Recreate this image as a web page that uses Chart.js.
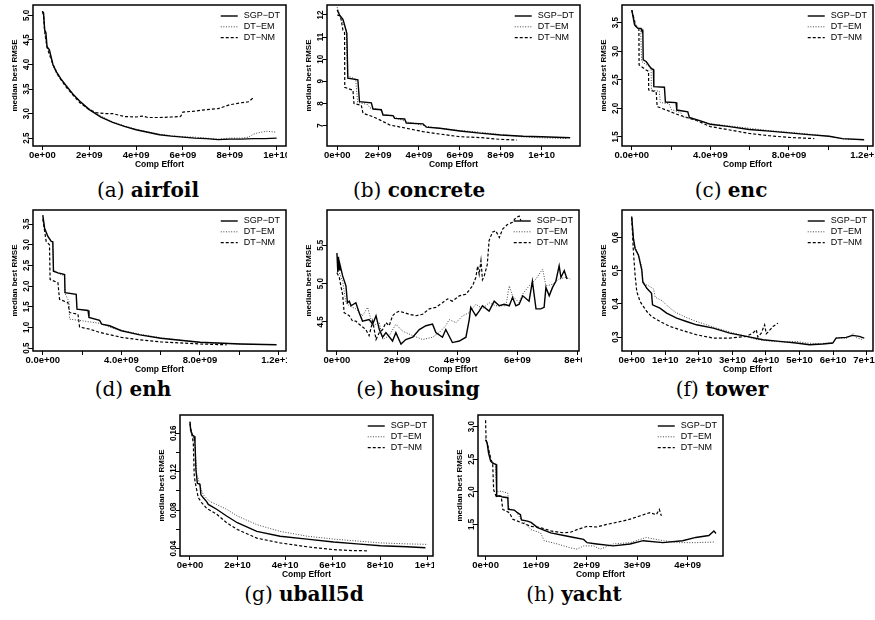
<!DOCTYPE html>
<html>
<head>
<meta charset="utf-8">
<script src="https://cdn.jsdelivr.net/npm/chart.js@4.4.1/dist/chart.umd.min.js"></script>
<style>
  body { margin: 0; background: #fff; width: 875px; height: 620px; position: relative; overflow: hidden; }
  canvas { position: absolute; }
  .cap { position: absolute; width: 300px; text-align: center; font: 20px "DejaVu Serif"; line-height: 24px; color: #000; white-space: nowrap; }
</style>
</head>
<body>
<script>
// series names (R draws "-" as a minus sign)
const seriesNames = ['SGP\u2212DT', 'DT\u2212EM', 'DT\u2212NM'];

// x in units of 1e9 comp effort, y = median best RMSE
const airfoilSgp = [[0,5.08],[0.05,5.05],[0.1,4.70],[0.15,4.65],[0.2,4.36],[0.3,4.30],[0.45,4.00],[0.6,3.85],[0.8,3.70],[1.0,3.58],[1.3,3.40],[1.6,3.25],[2.0,3.08],[2.5,2.93],[3.0,2.82],[3.5,2.74],[4.0,2.67],[4.5,2.62],[5.0,2.57],[5.5,2.54],[6.0,2.52],[6.5,2.50],[7.0,2.49],[7.5,2.47],[8.0,2.48],[8.5,2.48],[9.0,2.49],[9.5,2.49],[10.0,2.50]];
const airfoilEm = [[0,5.08],[0.05,5.0],[0.1,4.68],[0.2,4.35],[0.3,4.25],[0.45,3.98],[0.6,3.82],[0.8,3.68],[1.0,3.56],[1.3,3.40],[1.6,3.26],[2.0,3.10],[2.5,2.95],[3.0,2.83],[3.5,2.75],[4.0,2.68],[4.5,2.63],[5.0,2.58],[5.5,2.55],[6.0,2.53],[6.5,2.52],[7.0,2.50],[7.5,2.48],[8.0,2.50],[8.5,2.50],[8.8,2.52],[9.0,2.58],[9.3,2.62],[9.6,2.64],[10.0,2.62]];
const airfoilNm = [[0,5.08],[0.05,5.0],[0.1,4.65],[0.2,4.35],[0.3,4.2],[0.5,3.95],[0.7,3.75],[1.0,3.55],[1.3,3.38],[1.6,3.22],[2.0,3.08],[2.3,3.02],[2.7,3.00],[3.0,3.00],[3.5,2.94],[4.0,2.93],[4.3,2.95],[4.5,2.92],[5.0,2.92],[5.5,2.93],[5.9,2.94],[6.0,3.03],[6.5,3.05],[7.0,3.08],[7.5,3.10],[8.0,3.18],[8.5,3.22],[8.8,3.24],[9.0,3.32]];

const concreteSgp = [[0,12.23],[0.11,12.0],[0.28,11.8],[0.36,11.55],[0.47,11.17],[0.52,9.14],[1.01,9.07],[1.09,8.08],[1.67,8.03],[1.75,7.75],[2.16,7.72],[2.24,7.48],[2.73,7.45],[2.81,7.33],[3.30,7.30],[3.38,7.12],[4.20,7.08],[4.36,6.93],[5.02,6.88],[6.0,6.76],[6.98,6.66],[8.0,6.58],[9.1,6.52],[10.0,6.50],[11.4,6.45]];
const concreteEm = [[0,12.35],[0.15,11.9],[0.3,11.6],[0.45,11.3],[0.5,9.25],[0.9,9.1],[1.0,8.05],[1.5,7.95],[1.6,7.8],[2.1,7.72],[2.3,7.5],[2.8,7.42],[3.0,7.3],[3.5,7.15],[4.0,7.05],[4.5,6.95],[5.0,6.88],[6.0,6.78],[7.0,6.7],[8.0,6.6],[9.0,6.5],[10.0,6.45],[11.2,6.42]];
const concreteNm = [[0,12.0],[0.16,11.95],[0.28,11.32],[0.36,11.2],[0.37,8.73],[0.77,8.6],[0.82,8.0],[1.18,7.92],[1.26,7.56],[1.75,7.4],[2.08,7.26],[2.57,7.03],[3.39,6.88],[4.2,6.73],[5.02,6.62],[6.0,6.5],[6.98,6.46],[8.0,6.38],[8.8,6.35]];

const encSgp = [[0,3.72],[0.14,3.46],[0.31,3.40],[0.47,3.40],[0.5,3.37],[0.56,3.37],[0.58,2.85],[0.73,2.82],[0.98,2.70],[1.10,2.68],[1.12,2.38],[1.66,2.37],[1.71,2.11],[2.25,2.10],[2.29,1.97],[2.85,1.94],[2.93,1.84],[3.5,1.78],[4.0,1.72],[4.97,1.68],[5.98,1.63],[7.0,1.60],[8.02,1.57],[9.0,1.54],[10.05,1.51],[10.73,1.47],[11.83,1.45]];
const encEm = [[0,3.72],[0.2,3.45],[0.45,3.38],[0.5,2.82],[0.8,2.75],[0.98,2.72],[1.0,2.32],[1.4,2.30],[1.45,2.10],[1.9,2.08],[2.0,1.98],[2.5,1.92],[2.6,1.85],[3.2,1.80],[4.0,1.73],[5.0,1.69],[6.0,1.65],[7.0,1.61],[8.0,1.58],[9.0,1.55],[10.0,1.51],[10.8,1.46],[11.8,1.45]];
const encNm = [[0,3.72],[0.22,3.43],[0.36,3.40],[0.37,2.76],[0.73,2.67],[0.85,2.65],[0.86,2.32],[1.24,2.29],[1.29,2.03],[1.75,1.97],[2.42,1.88],[3.27,1.79],[4.0,1.68],[5.0,1.62],[5.98,1.56],[7.0,1.52],[8.02,1.49],[9.29,1.47]];

const enhSgp = [[0,3.71],[0.09,3.40],[0.26,3.20],[0.43,3.08],[0.51,3.07],[0.54,2.36],[0.77,2.32],[0.94,2.30],[1.11,2.28],[1.13,1.84],[1.70,1.80],[1.74,1.44],[2.30,1.41],[2.35,1.24],[2.89,1.17],[3.0,1.08],[3.40,1.04],[4.0,0.92],[4.94,0.82],[6.01,0.74],[7.0,0.69],[8.0,0.64],[10.04,0.60],[11.9,0.58]];
const enhEm = [[0,3.72],[0.1,3.35],[0.3,3.15],[0.5,3.05],[0.55,2.40],[0.8,2.30],[1.1,2.25],[1.13,1.82],[1.34,1.62],[1.36,1.20],[1.7,1.18],[2.3,1.14],[2.9,1.10],[3.5,0.99],[4.0,0.93],[5.0,0.83],[6.0,0.75],[7.0,0.69],[8.0,0.64],[10.0,0.60],[11.0,0.59]];
const enhNm = [[0,3.62],[0.17,3.08],[0.34,3.0],[0.37,2.16],[0.77,2.08],[0.85,1.68],[1.28,1.60],[1.36,1.36],[1.79,1.32],[1.87,1.01],[2.38,0.96],[2.89,0.88],[4.0,0.76],[4.94,0.70],[6.01,0.65],[8.0,0.60],[9.36,0.58]];

const housingSgp = [[0,5.40],[0.03,5.15],[0.05,5.35],[0.08,5.18],[0.10,5.25],[0.19,5.10],[0.30,4.97],[0.35,4.75],[0.41,4.77],[0.47,4.71],[0.63,4.75],[0.74,4.62],[0.85,4.51],[1.07,4.53],[1.19,4.47],[1.30,4.58],[1.41,4.40],[1.52,4.30],[1.63,4.36],[1.85,4.25],[1.96,4.36],[2.13,4.21],[2.29,4.27],[2.52,4.30],[2.74,4.40],[2.96,4.45],[3.18,4.47],[3.29,4.36],[3.51,4.30],[3.62,4.40],[3.79,4.27],[3.84,4.23],[4.07,4.25],[4.29,4.30],[4.40,4.53],[4.45,4.69],[4.62,4.58],[4.73,4.64],[4.84,4.71],[5.06,4.64],[5.23,4.77],[5.40,4.71],[5.56,4.73],[5.73,4.71],[5.84,4.82],[5.95,4.71],[6.06,4.73],[6.18,4.84],[6.39,4.77],[6.50,5.03],[6.62,4.67],[6.78,4.67],[6.89,4.69],[6.95,4.95],[7.06,4.84],[7.17,4.95],[7.28,5.03],[7.39,5.23],[7.45,5.08],[7.56,5.17],[7.65,5.06]];
const housingEm = [[0,5.14],[0.08,5.14],[0.19,5.03],[0.30,4.75],[0.41,4.71],[0.63,4.67],[0.85,4.58],[1.02,4.69],[1.19,4.45],[1.41,4.49],[1.52,4.27],[1.74,4.32],[1.96,4.47],[2.18,4.38],[2.52,4.32],[2.85,4.27],[3.18,4.30],[3.40,4.36],[3.62,4.45],[3.73,4.53],[3.96,4.49],[4.18,4.58],[4.40,4.62],[4.62,4.73],[4.84,4.67],[5.06,4.75],[5.28,4.71],[5.62,4.71],[5.73,4.97],[5.84,4.84],[6.06,4.75],[6.17,4.86],[6.39,4.97],[6.62,5.06],[6.84,5.19],[6.95,4.97],[7.17,4.99],[7.39,5.06],[7.61,5.08],[7.76,5.06]];
const housingNm = [[0,5.14],[0.08,5.08],[0.13,4.97],[0.19,4.86],[0.24,4.62],[0.41,4.58],[0.52,4.51],[0.63,4.51],[0.74,4.47],[0.96,4.40],[1.07,4.32],[1.19,4.51],[1.30,4.27],[1.41,4.36],[1.52,4.40],[1.63,4.49],[1.74,4.45],[1.85,4.58],[1.96,4.62],[2.07,4.64],[2.24,4.62],[2.40,4.60],[2.63,4.58],[2.85,4.60],[3.07,4.67],[3.29,4.69],[3.51,4.75],[3.68,4.80],[3.84,4.77],[4.07,4.84],[4.29,4.86],[4.51,4.97],[4.62,5.08],[4.68,5.23],[4.73,5.12],[4.79,5.30],[4.84,5.05],[4.90,5.10],[5.00,5.25],[5.06,5.56],[5.17,5.67],[5.28,5.69],[5.40,5.60],[5.51,5.71],[5.67,5.77],[5.84,5.80],[5.95,5.86],[6.06,5.88],[6.12,5.82]];

const towerSgp = [[0,0.662],[0.5,0.597],[1.0,0.567],[2.0,0.547],[3.0,0.502],[3.3,0.467],[4.5,0.447],[5.9,0.432],[6.2,0.397],[8.4,0.387],[10.4,0.372],[13.4,0.357],[16.3,0.347],[19.3,0.337],[24.3,0.327],[29.2,0.312],[34.2,0.302],[39.1,0.292],[44.1,0.287],[49.0,0.282],[53.0,0.277],[56.9,0.279],[59.9,0.282],[60.9,0.297],[63.9,0.299],[65.8,0.305],[67.8,0.302],[69.3,0.297]];
const towerEm = [[0,0.665],[0.5,0.60],[1.0,0.57],[2.0,0.55],[3.0,0.51],[3.3,0.46],[5.0,0.455],[6.5,0.445],[7.0,0.42],[9.0,0.41],[10.5,0.395],[13.0,0.375],[16.0,0.36],[19.0,0.348],[22.0,0.338],[25.0,0.328],[29.0,0.316],[33.0,0.305],[37.0,0.293],[41.0,0.288],[45.0,0.285],[49.0,0.287],[52.0,0.282],[56.0,0.280],[60.0,0.283],[61.0,0.298],[64.0,0.296],[66.0,0.310],[67.0,0.298],[69.0,0.292]];
const towerNm = [[0,0.66],[0.5,0.557],[1.0,0.487],[1.5,0.437],[2.5,0.407],[3.5,0.392],[4.5,0.377],[5.9,0.362],[8.4,0.347],[11.4,0.332],[14.4,0.322],[19.3,0.307],[24.3,0.297],[29.2,0.297],[34.2,0.302],[36.1,0.312],[37.1,0.322],[37.6,0.300],[38.6,0.312],[39.6,0.337],[40.1,0.310],[40.6,0.315],[42.1,0.332],[43.6,0.342]];

const uballSgp = [[0,0.172],[0.28,0.163],[1.12,0.158],[1.69,0.157],[2.1,0.151],[2.5,0.122],[3.1,0.108],[4.2,0.107],[4.6,0.096],[5.6,0.093],[7.0,0.089],[7.7,0.086],[11.2,0.081],[15.4,0.074],[19.9,0.067],[28.1,0.058],[37.9,0.053],[49.2,0.050],[60.4,0.047],[70.2,0.045],[80.1,0.043],[91.3,0.042],[99.0,0.041]];
const uballEm = [[0,0.172],[0.5,0.160],[1.5,0.155],[2.1,0.146],[2.8,0.117],[3.5,0.113],[4.2,0.105],[5.6,0.096],[8.4,0.089],[11.2,0.086],[15.4,0.081],[19.9,0.074],[28.1,0.065],[37.9,0.058],[49.2,0.053],[60.4,0.050],[70.2,0.048],[80.1,0.046],[91.3,0.045],[100.0,0.0445]];
const uballNm = [[0,0.170],[1.4,0.150],[1.8,0.115],[2.5,0.105],[3.5,0.093],[4.9,0.088],[7.0,0.082],[11.2,0.076],[15.4,0.067],[19.9,0.060],[28.1,0.051],[37.9,0.046],[49.2,0.042],[60.4,0.039],[68.8,0.038],[75.1,0.0378]];

const yachtSgp = [[0,2.80],[0.03,2.75],[0.06,2.59],[0.10,2.47],[0.14,2.44],[0.21,2.42],[0.22,1.93],[0.27,1.94],[0.34,1.92],[0.44,1.91],[0.45,1.73],[0.57,1.72],[0.63,1.68],[0.69,1.65],[0.71,1.57],[0.83,1.55],[0.90,1.53],[1.03,1.45],[1.29,1.37],[1.55,1.33],[1.75,1.30],[1.94,1.27],[2.01,1.22],[2.20,1.20],[2.53,1.17],[2.86,1.20],[3.12,1.25],[3.51,1.22],[3.90,1.25],[4.16,1.30],[4.42,1.33],[4.52,1.40],[4.56,1.36]];
const yachtEm = [[0,2.82],[0.05,2.7],[0.10,2.48],[0.20,2.42],[0.22,2.0],[0.31,2.01],[0.44,1.98],[0.46,1.75],[0.6,1.70],[0.70,1.58],[0.90,1.42],[1.09,1.37],[1.16,1.25],[1.42,1.20],[1.68,1.14],[1.81,1.12],[1.94,1.17],[2.14,1.17],[2.27,1.12],[2.53,1.20],[2.86,1.22],[3.18,1.30],[3.51,1.25],[3.84,1.22],[4.16,1.22],[4.54,1.23]];
const yachtNm = [[0,3.10],[0.01,2.80],[0.05,2.69],[0.11,2.49],[0.14,2.44],[0.16,2.03],[0.21,1.93],[0.31,1.93],[0.34,1.73],[0.47,1.68],[0.54,1.58],[0.70,1.53],[0.90,1.47],[1.09,1.45],[1.29,1.40],[1.55,1.37],[1.68,1.38],[1.81,1.42],[2.01,1.47],[2.20,1.46],[2.40,1.50],[2.59,1.53],[2.86,1.58],[3.05,1.63],[3.25,1.68],[3.38,1.65],[3.44,1.73],[3.48,1.63]];

// tick values and labels (R drops labels that would overlap)
const xTicks10 = [0,2,4,6,8,10];
const xLabels10 = ['0e+00','2e+09','4e+09','6e+09','8e+09','1e+10'];
const xTicks12 = [0,2,4,6,8,10,12];
const xLabels12 = ['0.0e+00','','4.0e+09','','8.0e+09','','1.2e+10'];
const housingXTicks = [0,2,4,6,8];
const housingXLabels = ['0e+00','2e+09','4e+09','6e+09','8e+09'];
const towerXTicks = [0,10,20,30,40,50,60,70];
const towerXLabels = ['0e+00','1e+10','2e+10','3e+10','4e+10','5e+10','6e+10','7e+10'];
const uballXTicks = [0,20,40,60,80,100];
const uballXLabels = ['0e+00','2e+10','4e+10','6e+10','8e+10','1e+11'];
const yachtXTicks = [0,1,2,3,4];
const yachtXLabels = ['0e+00','1e+09','2e+09','3e+09','4e+09'];

const airfoilYTicks = [2.5,3,3.5,4,4.5,5];
const airfoilYLabels = ['2.5','3.0','3.5','4.0','4.5','5.0'];
const concreteYTicks = [7,8,9,10,11,12];
const concreteYLabels = ['7','8','9','10','11','12'];
const encYTicks = [1.5,2,2.5,3,3.5];
const encYLabels = ['1.5','2.0','2.5','3.0','3.5'];
const enhYTicks = [0.5,1,1.5,2,2.5,3,3.5];
const enhYLabels = ['0.5','1.0','1.5','2.0','2.5','3.0','3.5'];
const housingYTicks = [4.5,5,5.5];
const housingYLabels = ['4.5','5.0','5.5'];
const towerYTicks = [0.3,0.4,0.5,0.6];
const towerYLabels = ['0.3','0.4','0.5','0.6'];
const uballYTicks = [0.04,0.06,0.08,0.10,0.12,0.14,0.16];
const uballYLabels = ['0.04','','0.08','','0.12','','0.16'];
const yachtYTicks = [1.5,2,2.5,3];
const yachtYLabels = ['1.5','2.0','2.5','3.0'];

const panels = [
  { tag: 'a', name: 'airfoil', series: [airfoilSgp, airfoilEm, airfoilNm], xt: xTicks10, xl: xLabels10, yt: airfoilYTicks, yl: airfoilYLabels, x: [-0.4, 10.4], y: [2.34, 5.21] },
  { tag: 'b', name: 'concrete', series: [concreteSgp, concreteEm, concreteNm], xt: xTicks10, xl: xLabels10, yt: concreteYTicks, yl: concreteYLabels, x: [-0.5, 11.88], y: [6.08, 12.45] },
  { tag: 'c', name: 'enc', series: [encSgp, encEm, encNm], xt: xTicks12, xl: xLabels12, yt: encYTicks, yl: encYLabels, x: [-0.5, 12.28], y: [1.34, 3.81] },
  { tag: 'd', name: 'enh', series: [enhSgp, enhEm, enhNm], xt: xTicks12, xl: xLabels12, yt: enhYTicks, yl: enhYLabels, x: [-0.5, 12.38], y: [0.43, 3.84] },
  { tag: 'e', name: 'housing', series: [housingSgp, housingEm, housingNm], xt: housingXTicks, xl: housingXLabels, yt: housingYTicks, yl: housingYLabels, x: [-0.33, 8.05], y: [4.12, 5.96] },
  { tag: 'f', name: 'tower', series: [towerSgp, towerEm, towerNm], xt: towerXTicks, xl: towerXLabels, yt: towerYTicks, yl: towerYLabels, x: [-2.9, 71.9], y: [0.258, 0.683] },
  { tag: 'g', name: 'uball5d', series: [uballSgp, uballEm, uballNm], xt: uballXTicks, xl: uballXLabels, yt: uballYTicks, yl: uballYLabels, x: [-4.2, 102.2], y: [0.0324, 0.179] },
  { tag: 'h', name: 'yacht', series: [yachtSgp, yachtEm, yachtNm], xt: yachtXTicks, xl: yachtXLabels, yt: yachtYTicks, yl: yachtYLabels, x: [-0.15, 4.7], y: [1.015, 3.18] }
];

// page placement: canvas left/top, plot box width, clip on the right, caption centre
const boxes = {
  a: { left: 0, top: 0, w: 253, clip: 1, cap: 148, capTop: 178 },
  b: { left: 294, top: 0, w: 253, clip: 6, cap: 419, capTop: 178 },
  c: { left: 589, top: 0, w: 251, clip: 2, cap: 731, capTop: 178 },
  d: { left: 0, top: 205, w: 253, clip: 1, cap: 133, capTop: 377 },
  e: { left: 294, top: 205, w: 252, clip: 3, cap: 418, capTop: 377 },
  f: { left: 589, top: 205, w: 251, clip: 2, cap: 722, capTop: 377 },
  g: { left: 147, top: 410, w: 253, clip: 1, cap: 304, capTop: 582 },
  h: { left: 445, top: 410, w: 245, clip: 8, cap: 574, capTop: 582 }
};

const styles = [
  { borderColor: '#000', borderWidth: 1.4, borderDash: [] },
  { borderColor: '#444', borderWidth: 1, borderDash: [1, 1.6] },
  { borderColor: '#000', borderWidth: 1.2, borderDash: [3, 2] }
];

const axisFont = { family: 'Liberation Sans', size: 9.5, weight: 'bold' };

function framePlugin(yLabels) {
  return {
    id: 'frame',
    afterDraw(chart) {
      const { ctx, chartArea: a } = chart;
      const ys = chart.scales.y;
      ctx.save();
      ctx.strokeStyle = '#000';
      ctx.lineWidth = 1.5;
      ctx.setLineDash([]);
      ctx.strokeRect(a.left, a.top, a.right - a.left, a.bottom - a.top);

      // rotated y tick labels, as R draws them
      ctx.fillStyle = '#000';
      ctx.font = 'bold 8px "Liberation Sans"';
      ctx.textAlign = 'center';
      ctx.textBaseline = 'middle';
      ys.ticks.forEach((t, i) => {
        if (!yLabels[i]) return;
        ctx.save();
        ctx.translate(a.left - 7, ys.getPixelForValue(t.value));
        ctx.rotate(-Math.PI / 2);
        ctx.scale(1, 1.2);
        ctx.fillText(yLabels[i], 0, 0);
        ctx.restore();
      });

      // legend in the top right corner
      ctx.font = '9px "Liberation Sans"';
      ctx.textAlign = 'left';
      const sets = chart.data.datasets;
      const w = Math.max(...sets.map(d => ctx.measureText(d.label).width));
      const tx = a.right - 6 - w;
      sets.forEach((d, i) => {
        const y = a.top + 11 + i * 10.8;
        ctx.beginPath();
        ctx.setLineDash(d.borderDash);
        ctx.lineWidth = d.borderWidth;
        ctx.strokeStyle = d.borderColor;
        ctx.moveTo(tx - 23, y);
        ctx.lineTo(tx - 6, y);
        ctx.stroke();
        ctx.setLineDash([]);
        ctx.fillText(d.label, tx, y);
      });
      ctx.restore();
    }
  };
}

panels.forEach(p => {
  const b = boxes[p.tag];
  const canvas = document.createElement('canvas');
  canvas.width = 33 + b.w + b.clip;
  canvas.height = 171;
  canvas.style.left = b.left + 'px';
  canvas.style.top = b.top + 'px';
  document.body.appendChild(canvas);

  const cap = document.createElement('div');
  cap.className = 'cap';
  cap.style.left = (b.cap - 150) + 'px';
  cap.style.top = b.capTop + 'px';
  cap.innerHTML = '(' + p.tag + ') <b>' + p.name + '</b>';
  document.body.appendChild(cap);

  const tickGrid = { display: true, drawOnChartArea: false, drawTicks: true, tickLength: 4, color: '#000', lineWidth: 1 };

  new Chart(canvas, {
    type: 'line',
    data: {
      datasets: p.series.map((s, i) => ({
        label: seriesNames[i],
        data: s.map(([x, y]) => ({ x, y })),
        borderColor: styles[i].borderColor,
        borderWidth: styles[i].borderWidth,
        borderDash: styles[i].borderDash,
        pointRadius: 0,
        tension: 0,
        fill: false
      }))
    },
    options: {
      responsive: false,
      animation: false,
      devicePixelRatio: 1,
      events: [],
      layout: { padding: { left: 0, right: b.clip, top: 5, bottom: 0 }, autoPadding: false },
      plugins: { legend: { display: false }, tooltip: { enabled: false } },
      scales: {
        x: {
          type: 'linear',
          min: p.x[0],
          max: p.x[1],
          // keep the plot box fixed; the last label may run off the panel edge like the cropped original
          afterFit: s => { s.height = 25; s.paddingLeft = 0; s.paddingRight = 0; },
          afterBuildTicks: s => { s.ticks = p.xt.map(v => ({ value: v })); },
          ticks: { callback: (v, i) => p.xl[i], autoSkip: false, maxRotation: 0, minRotation: 0, padding: 0, color: '#000', font: axisFont },
          grid: tickGrid,
          border: { display: false },
          title: { display: true, text: 'Comp Effort', color: '#000', font: { family: 'Liberation Sans', size: 8.5, weight: 'bold' }, padding: { top: 0, bottom: 1 } }
        },
        y: {
          type: 'linear',
          min: p.y[0],
          max: p.y[1],
          afterFit: s => { s.width = 33; s.paddingTop = 0; s.paddingBottom = 0; },
          afterBuildTicks: s => { s.ticks = p.yt.map(v => ({ value: v })); },
          ticks: { display: false },
          grid: tickGrid,
          border: { display: false },
          title: { display: true, text: 'median best RMSE', color: '#000', font: { family: 'Liberation Sans', size: 8, weight: 'bold' }, padding: { top: 10, bottom: 0 } }
        }
      }
    },
    plugins: [framePlugin(p.yl)]
  });
});
</script>
</body>
</html>
